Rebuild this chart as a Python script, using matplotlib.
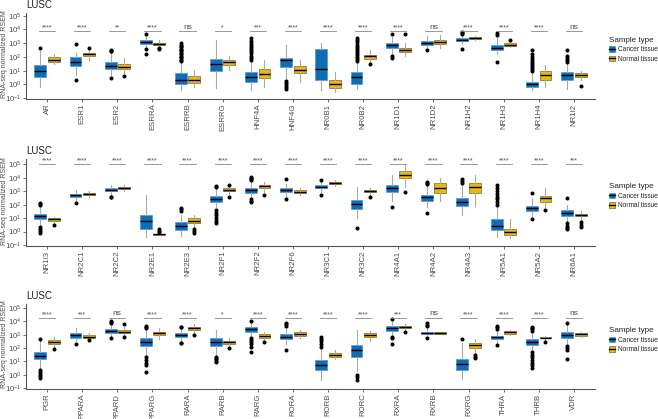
import matplotlib
matplotlib.use("Agg")
import matplotlib.pyplot as plt
import numpy as np
from matplotlib.patches import Patch
from matplotlib.lines import Line2D
from matplotlib.ticker import FixedLocator, FuncFormatter, NullLocator

plt.rcParams['font.family'] = ['Liberation Sans', 'DejaVu Sans']
plt.rcParams['mathtext.fontset'] = 'custom'
plt.rcParams['mathtext.rm'] = 'Liberation Sans'
plt.rcParams['mathtext.it'] = 'Liberation Sans'
plt.rcParams['mathtext.default'] = 'regular'

# ---------------- data (log10 of RSEM) ----------------
# stats order: whisker low, q1, median, q3, whisker high
genes1 = ["AR", "ESR1", "ESR2", "ESRRA", "ESRRB", "ESRRG", "HNF4A", "HNF4G",
          "NR0B1", "NR0B2", "NR1D1", "NR1D2", "NR1H2", "NR1H3", "NR1H4", "NR1I2"]
cancer1 = [[-0.2, 0.55, 0.95, 1.42, 2.45], [0.7, 1.35, 1.6, 2.0, 2.3], [0.7, 1.15, 1.35, 1.6, 2.25],
           [2.75, 2.92, 3.05, 3.2, 3.6], [-0.45, 0.05, 0.35, 0.82, 1.6], [-0.25, 1.0, 1.45, 1.85, 3.2],
           [-0.45, 0.2, 0.55, 0.9, 1.7], [0.4, 1.25, 1.75, 1.95, 2.85], [-0.4, 0.35, 1.1, 2.55, 3.0],
           [-0.35, 0.05, 0.5, 0.9, 1.55], [2.2, 2.65, 2.85, 3.0, 3.45], [2.6, 2.9, 3.03, 3.15, 3.5],
           [2.95, 3.15, 3.25, 3.35, 3.6], [2.2, 2.5, 2.67, 2.85, 3.35], [-0.45, -0.2, 0.0, 0.18, 0.8],
           [-0.35, 0.35, 0.68, 0.9, 1.55]]
cancer1_out = [[2.62], [2.95, 0.35], [2.5, 2.45, 2.4, 0.45], [3.7, 2.55, 2.2],
               [1.7, 1.8, 1.9, 2.0, 2.1, 2.2, 2.3, 2.4, 2.5, 2.6, 2.7, 2.8, 2.9, 3.0], [],
               [1.8, 1.95, 2.1, 2.25, 2.4, 2.55, 2.7, 2.85, 3.0, 3.15, 3.35],
               [0.25, 0.1, -0.05, -0.2, -0.35], [],
               [1.7, 1.85, 2.0, 2.15, 2.3, 2.45, 2.6, 2.75, 2.9, 3.05, 3.2, 3.35],
               [3.65, 2.05, 1.95], [2.5], [3.65, 3.72, 3.78, 2.55], [3.6, 3.75, 1.65],
               [0.95, 1.1, 1.25, 1.4, 1.55, 1.7, 1.85, 2.0, 2.2, 2.5], [1.65, 1.8, 1.95, 2.1, 2.5]]
normal1 = [[1.45, 1.62, 1.8, 1.96, 2.2], [1.75, 2.08, 2.18, 2.3, 2.5], [0.8, 1.1, 1.28, 1.48, 1.95],
           [2.75, 2.88, 2.97, 3.02, 3.2], [-0.2, 0.1, 0.35, 0.6, 1.05], [1.05, 1.38, 1.63, 1.77, 2.05],
           [-0.2, 0.45, 0.78, 1.15, 1.8], [0.2, 0.85, 1.05, 1.3, 1.8], [-0.55, -0.3, 0.0, 0.35, 0.9],
           [1.65, 1.87, 2.03, 2.17, 2.5], [2.1, 2.35, 2.5, 2.65, 3.0], [2.65, 2.92, 3.05, 3.2, 3.6],
           [3.22, 3.3, 3.35, 3.42, 3.5], [2.75, 2.8, 2.88, 2.98, 3.1], [-0.2, 0.35, 0.68, 0.95, 1.4],
           [0.35, 0.5, 0.65, 0.85, 1.0]]
normal1_out = [[], [2.62], [0.62], [2.65, 2.58], [], [], [], [], [], [1.5], [3.65], [], [], [3.25], [], [-0.1]]
sig1 = ["****", "****", "**", "****", "ns", "*", "***", "****", "****", "****", "****", "ns",
        "****", "****", "****", "ns"]

genes2 = ["NR1I3", "NR2C1", "NR2C2", "NR2E1", "NR2E3", "NR2F1", "NR2F2", "NR2F6",
          "NR3C1", "NR3C2", "NR4A1", "NR4A2", "NR4A3", "NR5A1", "NR5A2", "NR6A1"]
cancer2 = [[0.5, 0.93, 1.15, 1.3, 1.85], [2.3, 2.6, 2.7, 2.78, 3.1], [2.7, 3.0, 3.12, 3.25, 3.45],
           [-0.4, 0.2, 0.75, 1.25, 2.7], [-0.35, 0.1, 0.45, 0.68, 1.25], [1.8, 2.2, 2.45, 2.65, 3.2],
           [2.5, 2.9, 3.07, 3.25, 3.7], [2.6, 2.95, 3.1, 3.2, 3.55], [2.95, 3.2, 3.32, 3.44, 3.75],
           [1.0, 1.67, 2.05, 2.38, 3.3], [2.3, 2.95, 3.25, 3.45, 4.2], [1.8, 2.3, 2.55, 2.75, 3.4],
           [1.2, 1.9, 2.2, 2.5, 3.5], [-0.4, 0.1, 0.45, 0.93, 1.9], [1.0, 1.52, 1.74, 1.9, 2.4],
           [0.7, 1.15, 1.4, 1.57, 2.0]]
cancer2_out = [[1.95, 2.05, 2.15, 0.35, 0.2, 0.05, -0.1], [2.15], [2.6, 2.55], [], [1.55, 1.65, 1.72],
               [3.3, 3.4, 1.6, 1.4, 1.2, 1.0, 0.8, 0.6], [3.8, 3.9, 4.0, 4.05, 2.4, 2.3, 2.2],
               [3.9, 2.45], [3.85, 2.75], [0.28], [1.85], [3.5, 3.6, 3.7, 1.35], [3.6, 3.75, 3.9],
               [2.0, 2.2, 2.4, 2.6, 2.8, 3.0, 3.2, 3.45], [2.9, 0.93], [2.46, 0.6, 0.45, 0.3, 0.2]]
normal2 = [[0.6, 0.8, 0.9, 0.98, 1.1], [2.55, 2.7, 2.78, 2.85, 2.98], [3.0, 3.15, 3.25, 3.32, 3.45],
           [-0.28, -0.25, -0.21, -0.16, -0.1], [0.35, 0.6, 0.8, 0.98, 1.2], [2.7, 3.02, 3.12, 3.2, 3.4],
           [2.95, 3.27, 3.37, 3.49, 3.7], [2.75, 2.83, 2.95, 3.05, 3.2], [3.4, 3.54, 3.62, 3.69, 3.85],
           [2.75, 2.93, 3.0, 3.07, 3.2], [3.3, 3.94, 4.23, 4.48, 4.93], [2.28, 2.9, 3.27, 3.57, 4.0],
           [1.9, 2.83, 3.32, 3.62, 4.2], [-0.5, -0.26, -0.06, 0.16, 0.93], [1.8, 2.21, 2.46, 2.63, 3.2],
           [0.8, 1.12, 1.22, 1.32, 1.5]]
normal2_out = [[0.5], [], [], [0.0, 0.08, 0.16], [0.2, 0.05, -0.1], [3.45, 2.58], [2.7], [], [], [2.58],
               [2.95], [], [], [], [1.6], [0.68, 0.5, 0.36]]
sig2 = ["****"] * 15 + ["***"]

genes3 = ["PGR", "PPARA", "PPARD", "PPARG", "RARA", "RARB", "RARG", "RORA",
          "RORB", "RORC", "RXRA", "RXRB", "RXRG", "THRA", "THRB", "VDR"]
cancer3 = [[0.5, 1.15, 1.42, 1.73, 2.5], [2.5, 2.78, 2.98, 3.16, 3.49], [2.85, 3.16, 3.29, 3.41, 3.75],
           [1.5, 2.18, 2.48, 2.78, 3.45], [2.5, 2.83, 2.98, 3.16, 3.45], [1.45, 2.18, 2.48, 2.78, 3.36],
           [2.85, 3.24, 3.41, 3.61, 3.95], [2.3, 2.66, 2.86, 3.04, 3.6], [-0.42, 0.34, 0.72, 1.1, 2.0],
           [0.3, 1.35, 1.83, 2.23, 3.36], [3.0, 3.29, 3.49, 3.66, 4.05], [2.9, 3.04, 3.14, 3.24, 3.55],
           [-0.34, 0.34, 0.77, 1.17, 2.36], [2.4, 2.66, 2.81, 2.93, 3.35], [1.8, 2.23, 2.43, 2.66, 3.2],
           [2.25, 2.73, 2.98, 3.24, 3.75]]
cancer3_out = [[2.68, 0.34, 0.2, 0.05, -0.1, -0.24], [2.3], [3.87, 3.95, 4.04, 2.73],
               [3.54, 3.62, 3.69, 1.35, 1.1, 0.9, 0.7, 0.21], [3.55, 3.62, 2.4, 2.35],
               [1.35, 1.25, 1.15, 1.05, 0.97], [4.04, 2.73, 2.6, 2.45, 2.3, 2.1, 1.68],
               [3.69, 3.78, 3.87, 1.85], [2.1, 2.3, 2.5, 2.7, 2.86], [0.01, -0.2, -0.37],
               [4.19, 2.85, 2.75, 2.3], [3.65, 3.75, 3.87, 2.73], [2.66], [3.45, 3.55, 3.69, 2.23],
               [3.29, 3.4, 3.5, 3.61, 1.73, 1.5, 1.3, 1.1, 0.9, 0.7, 0.47], [3.87, 2.15, 2.0, 1.85, 1.17]]
normal3 = [[2.0, 2.3, 2.48, 2.61, 2.85], [2.7, 2.78, 2.86, 2.96, 3.1], [2.9, 3.11, 3.24, 3.36, 3.6],
           [2.7, 2.98, 3.11, 3.24, 3.54], [3.15, 3.36, 3.49, 3.61, 3.8], [2.05, 2.3, 2.43, 2.56, 2.75],
           [2.6, 2.78, 2.91, 3.04, 3.2], [2.75, 2.91, 3.06, 3.19, 3.35], [1.2, 1.35, 1.47, 1.65, 1.85],
           [2.55, 2.81, 2.98, 3.16, 3.3], [3.35, 3.49, 3.56, 3.64, 3.8], [3.05, 3.09, 3.14, 3.19, 3.24],
           [1.6, 2.03, 2.2, 2.36, 2.65], [3.0, 3.09, 3.19, 3.26, 3.35], [2.55, 2.73, 2.78, 2.83, 2.93],
           [2.8, 2.91, 3.04, 3.11, 3.2]]
normal3_out = [[1.93], [2.6], [3.8, 2.86], [], [3.0], [1.98], [2.45], [], [], [], [3.24], [],
               [1.47, 1.35, 1.25], [], [2.48], []]
sig3 = ["****", "***", "ns", "****", "****", "*", "****", "****", "****", "****", "***", "ns",
        "****", "****", "****", "ns"]

panel_title = "LUSC"
y_label = "RNA-seq normalized RSEM"
legend_title = "Sample type"
legend_labels = ["Cancer tissue", "Normal tissue"]

# ---------------- style ----------------
C_FACE, C_EDGE = "#0F6DB6", "#5E9AD2"
N_FACE, N_EDGE = "#E8B818", "#8C7D3C"
WHISK = "#AAAAAA"
AX_COL = "#555555"
TXT_COL = "#4D4D4D"

W, H = 658, 419
fig = plt.figure(figsize=(W / 100, H / 100), dpi=100)

panels = [
    (genes1, cancer1, cancer1_out, normal1, normal1_out, sig1, (13, 99), 5.2),
    (genes2, cancer2, cancer2_out, normal2, normal2_out, sig2, (159.5, 246), 5.35),
    (genes3, cancer3, cancer3_out, normal3, normal3_out, sig3, (303.5, 389), 5.35),
]

ax_left, ax_right = 26, 595
ylo = -1.07


def mk_stats(rows, outs):
    st = []
    for r, o in zip(rows, outs):
        st.append(dict(whislo=10 ** r[0], q1=10 ** r[1], med=10 ** r[2], q3=10 ** r[3],
                       whishi=10 ** r[4], fliers=10 ** np.array(o, dtype=float)))
    return st


for genes, can, can_o, nor, nor_o, sig, (ptop, pbot), yhi in panels:
    ax = fig.add_axes([ax_left / W, 1 - pbot / H, (ax_right - ax_left) / W, (pbot - ptop) / H])
    x = np.arange(1, len(genes) + 1)
    for stats, outs, off, face, edge in [(can, can_o, -0.19, C_FACE, C_EDGE),
                                          (nor, nor_o, 0.19, N_FACE, N_EDGE)]:
        ax.bxp(mk_stats(stats, outs), positions=x + off, widths=0.34, patch_artist=True,
               showcaps=False,
               boxprops=dict(facecolor=face, edgecolor=edge, linewidth=0.6),
               whiskerprops=dict(color=WHISK, linewidth=0.8),
               medianprops=dict(color="black", linewidth=1.0),
               flierprops=dict(marker="o", markerfacecolor="black", markeredgecolor="black",
                               markersize=1.9, linestyle="none"),
               manage_ticks=False)
    # significance labels
    ymax = max(max(r[4] for r in can), max(r[4] for r in nor),
               max(max(o) if o else -9 for o in can_o), max(max(o) if o else -9 for o in nor_o))
    ysig = 10 ** (ymax + 0.1)
    for xi, s in zip(x, sig):
        ax.plot([xi - 0.23, xi + 0.23], [ysig, ysig], color="#888888", lw=0.6)
        if s == "ns":
            ax.text(xi, ysig * 1.05, s, ha="center", va="bottom", fontsize=6, color=TXT_COL)
        else:
            ax.text(xi, ysig * 0.93, s, ha="center", va="bottom", fontsize=5, color=TXT_COL)

    ax.set_yscale("log")
    ax.set_ylim(10 ** ylo, 10 ** yhi)
    ax.set_xlim(0.4, len(genes) + 0.6)
    ax.yaxis.set_major_locator(FixedLocator([10.0 ** k for k in range(-1, 6)]))
    ax.yaxis.set_minor_locator(NullLocator())
    ax.yaxis.set_major_formatter(FuncFormatter(lambda v, p: r"$10^{%d}$" % round(np.log10(v))))
    ax.set_xticks(x)
    ax.set_xticklabels(genes, rotation=90, fontsize=5.6, color=TXT_COL)
    ax.tick_params(axis="y", labelsize=5.6, labelcolor=TXT_COL, length=2, width=0.6, color=AX_COL, pad=1.0)
    ax.tick_params(axis="x", length=1.8, width=0.6, color=AX_COL, pad=1.5)
    for s in ["top", "right"]:
        ax.spines[s].set_visible(False)
    for s in ["left", "bottom"]:
        ax.spines[s].set_color(AX_COL)
        ax.spines[s].set_linewidth(0.8)
    fig.text(4.2 / W, 1 - ((ptop + pbot) / 2 - 2) / H, y_label, rotation=90, fontsize=5.0,
             color=TXT_COL, ha="center", va="center")
    fig.text(ax_left / W, 1 - (ptop - 8) / H, panel_title, fontsize=7, color="#222222",
             ha="left", va="center")

    handles = [(Patch(facecolor=C_FACE, edgecolor=C_EDGE, lw=0.6), Line2D([], [], color="black", lw=1)),
               (Patch(facecolor=N_FACE, edgecolor=N_EDGE, lw=0.6), Line2D([], [], color="black", lw=1))]
    leg = ax.legend(handles, legend_labels, title=legend_title, loc="upper left",
                    bbox_to_anchor=(608 / W, 1 - (ptop + 23) / H), bbox_transform=fig.transFigure,
                    frameon=False, fontsize=4.7, title_fontsize=5.8, handlelength=0.9,
                    handleheight=0.9, handletextpad=0.5, labelspacing=0.4, borderpad=0.1,
                    borderaxespad=0)
    leg._legend_box.align = "left"
    for t in leg.get_texts():
        t.set_color("#222222")
    leg.get_title().set_color("#222222")

fig.savefig("out.png", dpi=100)
